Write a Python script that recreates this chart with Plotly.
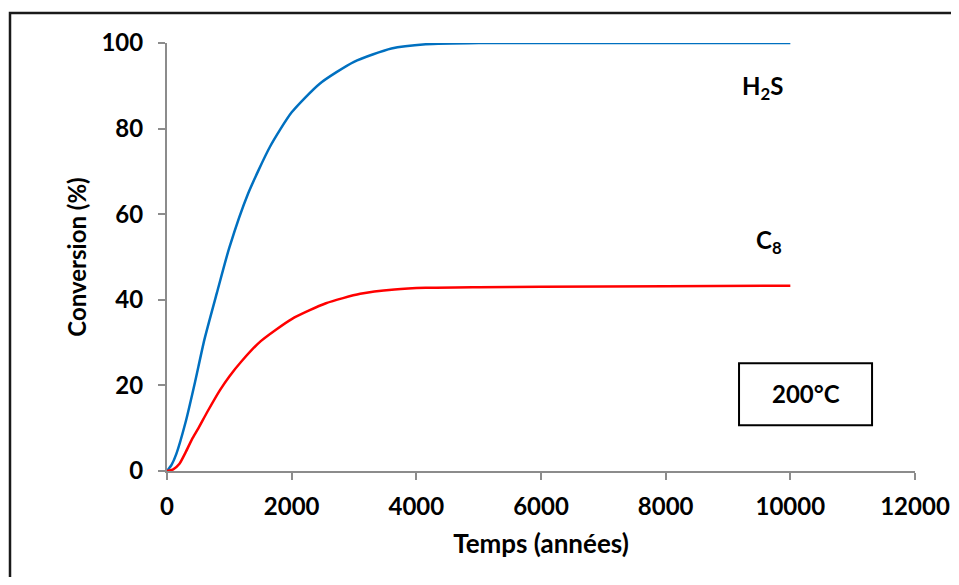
import plotly.graph_objects as go

# Data
time_h2s = [0, 75, 150, 300, 450, 600, 800, 1000, 1300, 1650, 2000, 2450, 3000, 3600, 4150, 5000, 6000, 8000, 10000]
conv_h2s = [0, 1.5, 4.0, 11.5, 20.8, 30.7, 41.6, 52.2, 64.8, 75.7, 83.8, 90.5, 95.6, 98.7, 99.7, 100, 100, 100, 100]

time_c8 = [0, 100, 200, 300, 400, 500, 650, 850, 1000, 1200, 1500, 2000, 2550, 3100, 3650, 4150, 5000, 6000, 8000, 10000]
conv_c8 = [0, 0.4, 1.7, 4.4, 7.4, 9.9, 13.9, 18.9, 22.1, 25.7, 30.3, 35.5, 39.2, 41.4, 42.4, 42.8, 42.95, 43.05, 43.15, 43.3]

x_ticks = [0, 2000, 4000, 6000, 8000, 10000, 12000]
y_ticks = [0, 20, 40, 60, 80, 100]

FONT = "Lato"
OFF = 8  # page body offset
W, H = 959 - 2 * OFF, 585 - 2 * OFF
ML, MT = 167 - OFF, 43 - OFF
MR = (W + OFF) - 915
MB = (H + OFF) - 471
PW, PH = W - ML - MR, H - MT - MB

def px_to_paper_x(px):
    return (px - OFF - ML) / PW

def px_to_paper_y(py):
    return (H - MB - (py - OFF)) / PH

fig = go.Figure()
fig.add_trace(go.Scatter(x=time_h2s, y=conv_h2s, mode="lines", name="H2S",
                         line=dict(color="#0070C0", width=2.5, shape="spline", smoothing=0.6)))
fig.add_trace(go.Scatter(x=time_c8, y=conv_c8, mode="lines", name="C8",
                         line=dict(color="#FF0000", width=2.5, shape="spline", smoothing=0.6)))

axis_common = dict(showgrid=False, zeroline=False, showline=True, linecolor="#8C8C8C", linewidth=2,
                   ticks="outside", ticklen=7, tickwidth=2, tickcolor="#8C8C8C", automargin=False,
                   tickfont=dict(family=FONT, size=24, color="black", weight="bold"))

fig.update_xaxes(range=[0, 12000], tickvals=x_ticks, ticktext=[str(v) for v in x_ticks],
                 ticklabelstandoff=6,
                 title=dict(text="Temps (années)", font=dict(family=FONT, size=26, color="black", weight="bold"),
                            standoff=16),
                 **axis_common)
fig.update_yaxes(range=[0, 100], tickvals=y_ticks, ticktext=[str(v) for v in y_ticks],
                 ticklabelstandoff=10,
                 title=dict(text="Conversion (%)", font=dict(family=FONT, size=24, color="black", weight="bold"),
                            standoff=8),
                 **axis_common)

fig.add_annotation(x=9546, y=89.5, text="H<sub>2</sub>S", showarrow=False,
                   font=dict(family=FONT, size=24, color="black", weight="bold"))
fig.add_annotation(x=9660, y=53.7, text="C<sub>8</sub>", showarrow=False,
                   font=dict(family=FONT, size=24, color="black", weight="bold"))

fig.add_shape(type="rect", xref="x", yref="y", x0=9177, x1=11311, y0=10.7, y1=25.2,
              line=dict(color="black", width=2), fillcolor="white")
fig.add_annotation(x=10244, y=18.2, text="200°C", showarrow=False,
                   font=dict(family=FONT, size=24, color="black", weight="bold"))

# outer chart border: left and top edges visible, drawn as a path
bx = px_to_paper_x(10)
by = px_to_paper_y(13)
ex = px_to_paper_x(W + OFF + 20)
ey = px_to_paper_y(H + OFF + 20)
fig.add_shape(type="path", xref="paper", yref="paper",
              path=f"M {bx} {ey} L {bx} {by} L {ex} {by}",
              line=dict(color="#1a1a1a", width=2.5))

fig.update_layout(width=W, height=H, margin=dict(l=ML, r=MR, t=MT, b=MB),
                  plot_bgcolor="white", paper_bgcolor="white", showlegend=False)

fig.write_html("out.html")
